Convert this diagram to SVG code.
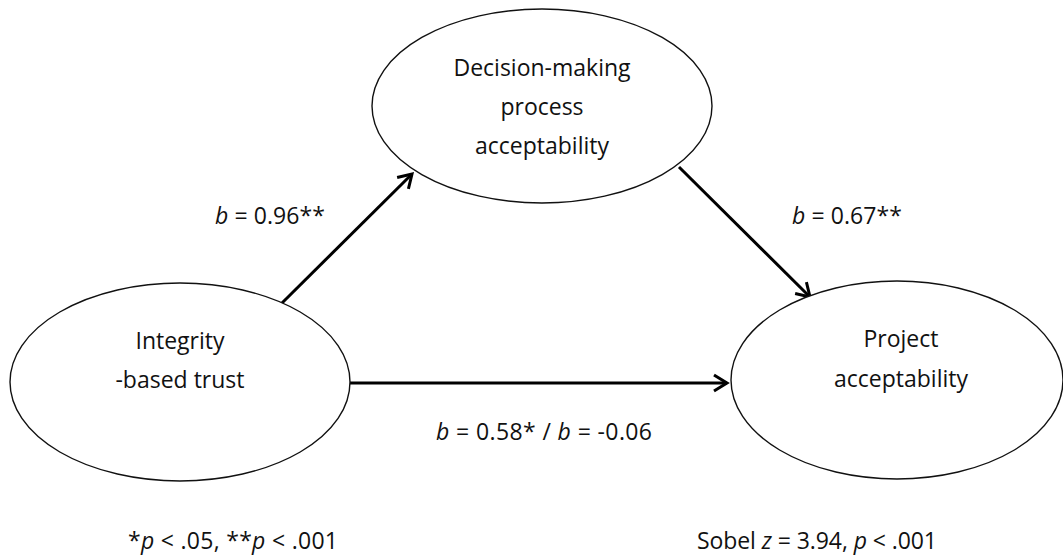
<svg xmlns="http://www.w3.org/2000/svg" width="1063" height="556" viewBox="0 0 1063 556">
<style>
  .node ellipse { fill: #ffffff; stroke: #111111; stroke-width: 1.4; }
  text { font-family: "Open Sans", "Liberation Sans", sans-serif; font-size: 23px; fill: #111111; }
  .c { text-anchor: middle; }
  .i { font-style: italic; }
  .edge { stroke: #000000; stroke-width: 3; fill: none; marker-end: url(#arr); }
</style>
<defs>
  <marker id="arr" markerUnits="userSpaceOnUse" markerWidth="20" markerHeight="20" viewBox="-16 -10 20 20" refX="0" refY="0" orient="auto">
    <path d="M -13 -8 L 0 0 L -13 8" fill="none" stroke="#000000" stroke-width="3" stroke-linejoin="miter"/>
  </marker>
</defs>
<rect width="1063" height="556" fill="#ffffff"/>

<g id="connectors">
  <line class="edge" x1="282" y1="303" x2="412" y2="174"/>
  <line class="edge" x1="679" y1="167" x2="810" y2="297"/>
  <line class="edge" x1="350" y1="383" x2="727" y2="383"/>
</g>

<g id="node-trust" class="node">
  <ellipse cx="180" cy="382" rx="170" ry="99"/>
  <text class="c" x="180" y="349">Integrity</text>
  <text class="c" x="180" y="388">-based trust</text>
</g>

<g id="node-process" class="node">
  <ellipse cx="542" cy="106" rx="170" ry="97"/>
  <text class="c" x="542" y="76">Decision-making</text>
  <text class="c" x="542" y="115">process</text>
  <text class="c" x="542" y="154">acceptability</text>
</g>

<g id="node-project" class="node">
  <ellipse cx="897" cy="380" rx="166" ry="99"/>
  <text class="c" x="901" y="347">Project</text>
  <text class="c" x="901" y="387">acceptability</text>
</g>

<g id="labels">
  <text x="215" y="224" textLength="110" lengthAdjust="spacing"><tspan class="i">b</tspan> = 0.96**</text>
  <text x="792" y="224" textLength="110" lengthAdjust="spacing"><tspan class="i">b</tspan> = 0.67**</text>
  <text x="436" y="440" textLength="216" lengthAdjust="spacing"><tspan class="i">b</tspan> = 0.58* / <tspan class="i">b</tspan> = -0.06</text>
  <text x="128" y="549" textLength="210" lengthAdjust="spacing">*<tspan class="i">p</tspan> &lt; .05, **<tspan class="i">p</tspan> &lt; .001</text>
  <text x="697" y="549" textLength="240" lengthAdjust="spacing">Sobel <tspan class="i">z</tspan> = 3.94, <tspan class="i">p</tspan> &lt; .001</text>
</g>
</svg>
